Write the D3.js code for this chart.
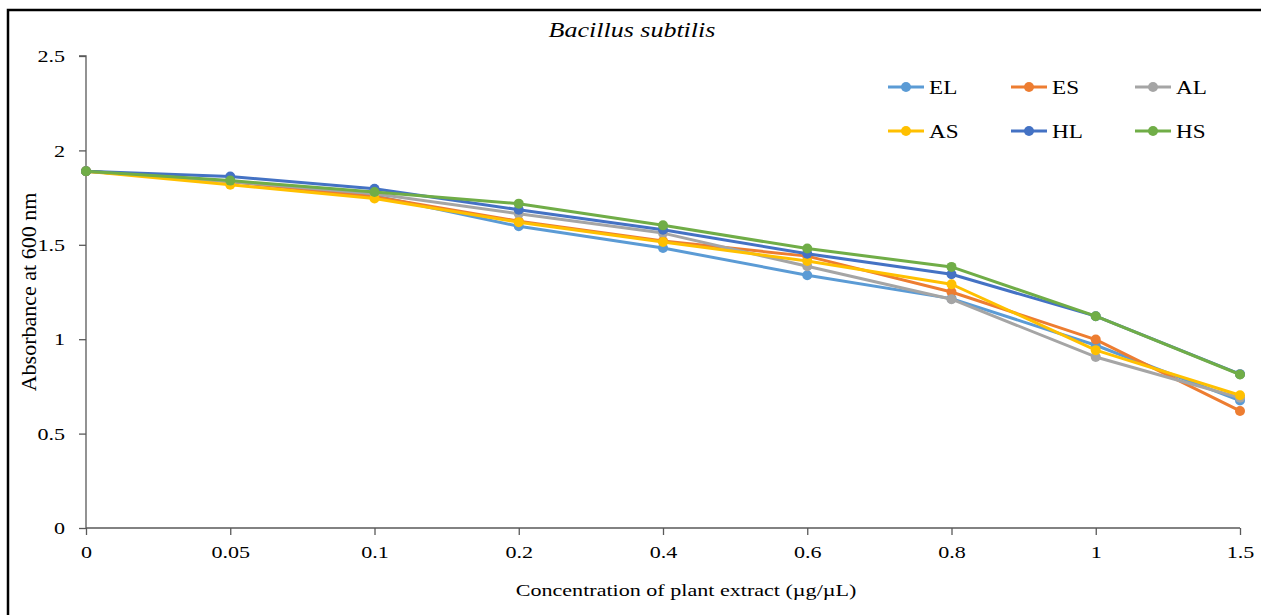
<!DOCTYPE html>
<html>
<head>
<meta charset="utf-8">
<script src="https://cdn.jsdelivr.net/npm/d3@7"></script>
<style>
  body { margin: 0; background: #fff; }
  svg { display: block; font-family: "Liberation Serif", "Times New Roman", serif; }
</style>
</head>
<body>
<div id="chart"></div>
<script>
// concentrations on the x axis (categorical)
const concentrations = ['0', '0.05', '0.1', '0.2', '0.4', '0.6', '0.8', '1', '1.5'];

// absorbance readings
const EL = [1.89, 1.835, 1.76, 1.598, 1.483, 1.339, 1.215, 0.968, 0.675];
const ES = [1.89, 1.835, 1.755, 1.625, 1.52, 1.44, 1.25, 0.998, 0.62];
const AL = [1.89, 1.835, 1.77, 1.665, 1.562, 1.386, 1.212, 0.906, 0.69];
const AS = [1.89, 1.818, 1.745, 1.62, 1.515, 1.414, 1.291, 0.942, 0.703];
const HL = [1.89, 1.862, 1.797, 1.686, 1.58, 1.453, 1.344, 1.122, 0.815];
const HS = [1.89, 1.84, 1.78, 1.718, 1.603, 1.48, 1.383, 1.122, 0.813];

const seriesNames = ['EL', 'ES', 'AL', 'AS', 'HL', 'HS'];
const seriesValues = [EL, ES, AL, AS, HL, HS];
const seriesColors = ['#5B9BD5', '#ED7D31', '#A5A5A5', '#FFC000', '#4472C4', '#70AD47'];

const yTicks = [0, 0.5, 1, 1.5, 2, 2.5];

const width = 1261, height = 615;
// the source picture is stretched sideways, so horizontal text gets widened
const SX = 1.3;

const svg = d3.select('#chart').append('svg')
    .attr('width', width)
    .attr('height', height);

// outer frame
svg.append('rect')
    .attr('x', 8).attr('y', 10)
    .attr('width', width + 10).attr('height', height + 10)
    .attr('fill', 'none').attr('stroke', '#000').attr('stroke-width', 2.5);

const x = d3.scalePoint().domain(concentrations).range([86, 1240]);
const y = d3.scaleLinear().domain([0, 2.5]).range([528, 56]);

const axisColor = '#595959';

const yAxis = svg.append('g')
    .attr('transform', 'translate(86,0)')
    .call(d3.axisLeft(y).tickValues(yTicks).tickSize(7).tickFormat(d => String(d)));
const xAxis = svg.append('g')
    .attr('transform', 'translate(0,528)')
    .call(d3.axisBottom(x).tickSize(7));

[xAxis, yAxis].forEach(a => {
  a.selectAll('path, line').attr('stroke', axisColor).attr('stroke-width', 1.3);
  a.selectAll('text').attr('fill', '#000')
    .attr('font-size', 17)
    .attr('font-family', '"Liberation Serif", serif');
});
yAxis.selectAll('text')
    .attr('x', 0).attr('dy', '0.34em')
    .attr('transform', 'translate(-21,0) scale(' + SX + ',1)');
xAxis.selectAll('text')
    .attr('y', 0).attr('dy', 0)
    .attr('transform', 'translate(0,30) scale(' + SX + ',1)');
yAxis.select('.domain').attr('d', 'M-7,' + y(2.5) + 'H0V' + y(0));
xAxis.select('.domain').attr('d', 'M86,0H1240');

const line = d3.line()
    .x((d, i) => x(concentrations[i]))
    .y(d => y(d));

seriesValues.forEach((vals, si) => {
  const g = svg.append('g');
  g.append('path')
      .datum(vals)
      .attr('d', line)
      .attr('fill', 'none')
      .attr('stroke', seriesColors[si])
      .attr('stroke-width', 3)
      .attr('stroke-linejoin', 'round');
  g.selectAll('circle')
      .data(vals)
      .enter().append('circle')
      .attr('cx', (d, i) => x(concentrations[i]))
      .attr('cy', d => y(d))
      .attr('r', 5)
      .attr('fill', seriesColors[si]);
});

function stretchedText(tx, ty, size, str, sx) {
  return svg.append('text')
      .attr('transform', 'translate(' + tx + ',' + ty + ') scale(' + sx + ',1)')
      .attr('font-size', size)
      .text(str);
}

// title
stretchedText(632, 37, 20, 'Bacillus subtilis', SX)
    .attr('text-anchor', 'middle')
    .attr('font-style', 'italic');

// axis titles
svg.append('text')
    .attr('transform', 'translate(36,292) rotate(-90)')
    .attr('text-anchor', 'middle')
    .attr('font-size', 22)
    .text('Absorbance at 600 nm');
stretchedText(686, 596, 17, 'Concentration of plant extract (µg/µL)', SX)
    .attr('text-anchor', 'middle');

// legend, 3 columns x 2 rows
const legendX = [888, 1011, 1135];
const legendY = [87, 131];
seriesNames.forEach((name, i) => {
  const lx = legendX[i % 3], ly = legendY[Math.floor(i / 3)];
  const g = svg.append('g').attr('transform', 'translate(' + lx + ',' + ly + ')');
  g.append('line').attr('x1', 0).attr('x2', 36).attr('y1', 0).attr('y2', 0)
    .attr('stroke', seriesColors[i]).attr('stroke-width', 3);
  g.append('circle').attr('cx', 18).attr('cy', 0).attr('r', 5).attr('fill', seriesColors[i]);
  stretchedText(lx + 41, ly + 7, 19, name, 1.22);
});
</script>
</body>
</html>
